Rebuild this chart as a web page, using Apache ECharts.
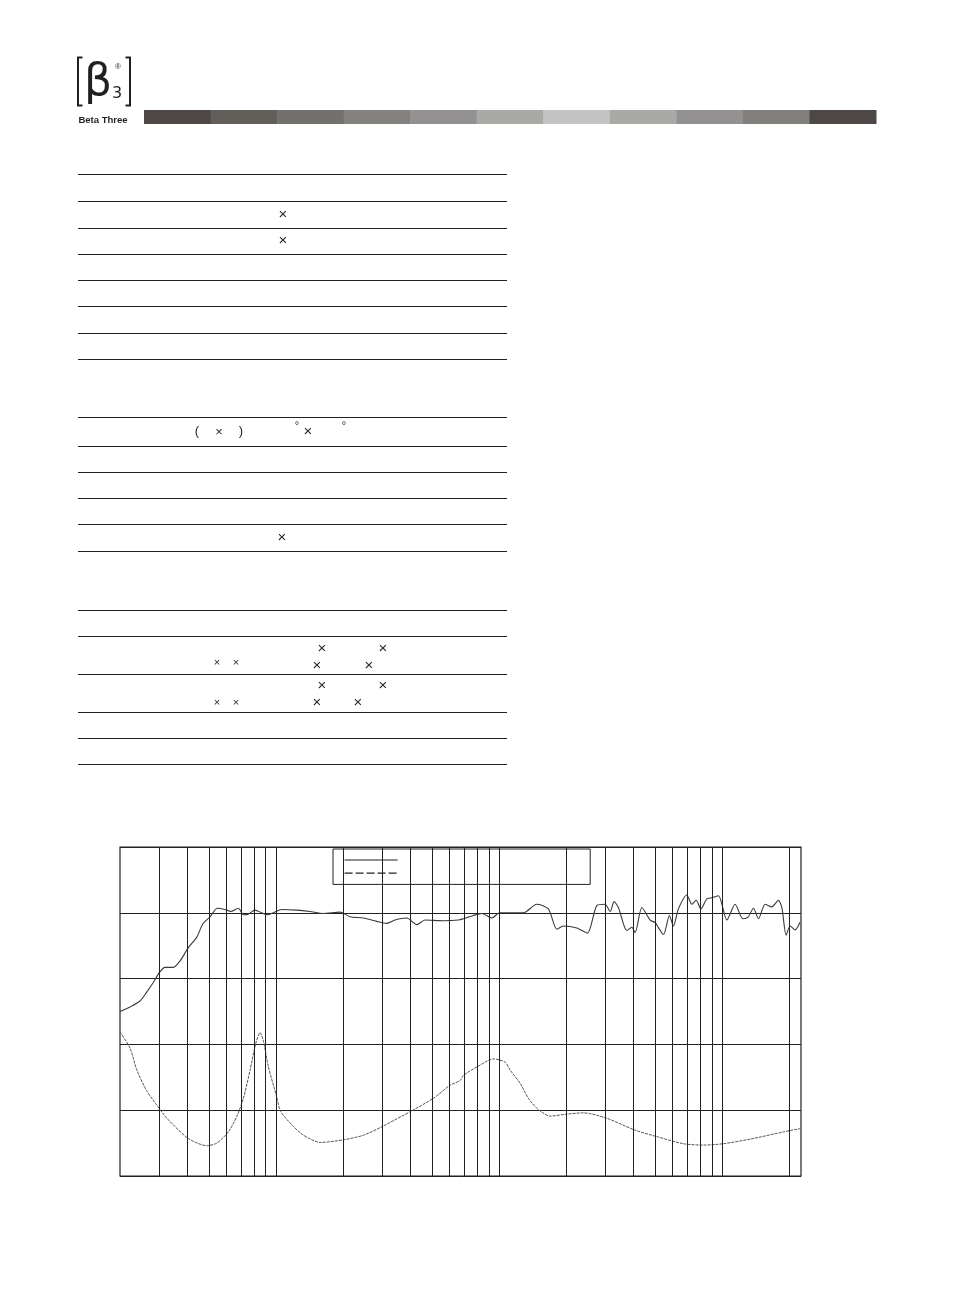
<!DOCTYPE html>
<html>
<head>
<meta charset="utf-8">
<script src="https://cdn.jsdelivr.net/npm/echarts@6/dist/echarts.min.js"></script>
<style>
html,body{margin:0;padding:0;background:#fff;}
#main{width:954px;height:1294px;}
</style>
</head>
<body>
<div id="main"></div>
<script>
// ---------- DATA ----------
// Frequency response (SPL, dB) vs frequency (Hz)
const splFreq = [20,22.2,24.6,26.3,28.2,30.0,31.8,34.7,37.2,40.5,44.2,47.0,50.7,54.6,59.1,62.7,67.9,71.5,75.2,80.6,86.4,91.5,97.4,106,124,142,163,194,215,247,283,314,342,386,428,466,564,658,693,768,838,929,1005,1122,1287,1478,1666,1817,1945,2234,2492,2746,2992,3150,3284,3432,3744,3942,4078,4372,4762,5014,5462,5810,6056,6376,6956,7324,7656,8036,8552,9004,9640,10510,11450,12400,13060,13840,14570,15610,16730,17910,18550,19390,20210,21280,22400];
const splValues = [75.0,75.7,76.6,77.9,79.4,80.9,81.7,81.7,82.7,84.7,86.3,88.3,89.4,90.7,90.5,90.2,90.7,89.7,89.8,90.4,90.0,89.7,90.0,90.5,90.4,90.2,89.9,90.1,89.4,89.2,88.7,88.4,88.9,89.2,88.2,88.9,88.8,88.9,89.1,89.6,89.9,89.2,90.0,90.0,90.0,91.3,90.6,87.5,88.0,87.7,86.9,91.1,91.3,90.2,91.7,90.8,87.3,87.8,87.0,90.8,88.9,88.5,86.7,89.6,88.0,90.6,92.7,91.3,91.9,90.6,92.1,92.3,92.6,88.9,91.3,89.1,89.3,90.7,89.1,91.3,90.9,91.9,90.8,86.6,88.0,87.4,88.6];
// Impedance curve (same plot scale) vs frequency (Hz)
const impFreq = [20,22.2,23.8,26.3,29.2,32.4,40.5,49.0,54.3,61.2,66.7,71.5,76.6,81.2,84.9,87.8,92.5,100.9,105,120,133,158,201,247,303,406,508,604,669,693,809,944,1066,1122,1244,1355,1502,1696,2006,2392,3032,4050,5082,6714,8256,10090,13370,18860,22400];
const impValues = [71.9,69.4,66.1,63.0,60.8,58.8,55.7,54.6,55.0,56.7,59.0,61.8,66.1,70.1,71.8,70.6,66.6,62.0,59.8,57.5,56.2,55.1,55.5,56.2,57.6,59.9,61.8,63.8,64.5,65.3,66.7,67.8,67.3,66.1,64.1,61.8,60.1,59.1,59.4,59.6,58.8,57.0,56.0,54.9,54.7,54.9,55.6,56.7,57.2];
// Vertical grid frequencies (Hz)
const gridFreqs = [30,40,50,60,70,80,90,100,200,300,400,500,600,700,800,900,1000,2000,3000,4000,5000,6000,7000,8000,9000,10000,20000];
const seriesNames = ['SPL','Impedance'];
// Header bar shades
const barShades = ['#4d4846','#625e5a','#72716e','#82817e','#939192','#a9aaa5','#c3c3c3','#a9aaa5','#939192','#82807c','#4d4846'];
// Text glyphs remaining in the spec table
const tableGlyphs = ['×','×','(','×',')','°','×','°','×','×','×','×','×','×','×','×','×','×','×','×','×'];

// ---------- LAYOUT ----------
const ruleY = [174,201,228,254,280,306,333,359,417,446,472,498,524,551,610,636,674,712,738,764];
const glyphPos = [
  [283,215,15],[283,241,15],
  [197,431,13],[219,432,13],[241,431,13],[297,426,11],[308,432,15],[344,426,11],
  [282,538,15],
  [322,649,15],[383,649,15],[217,663,11],[236,663,11],[317,666,15],[369,666,15],
  [322,686,15],[383,686,15],[217,703,11],[236,703,11],[317,703,15],[358,703,15]
];
const FONT = '"Liberation Sans", Arial, sans-serif';

const graphics = [];
// logo brackets
graphics.push({type:'polyline', shape:{points:[[82.5,57.5],[78,57.5],[78,105.5],[82.5,105.5]]}, style:{stroke:'#231f20', lineWidth:2, fill:null}});
graphics.push({type:'polyline', shape:{points:[[125.5,57.5],[130,57.5],[130,105.5],[125.5,105.5]]}, style:{stroke:'#231f20', lineWidth:2, fill:null}});
graphics.push({type:'text', x:98, y:84, style:{text:'β', font:'44px "DejaVu Sans", sans-serif', fill:'#231f20', align:'center', verticalAlign:'middle'}});
graphics.push({type:'text', x:117, y:94, style:{text:'3', font:'16px "DejaVu Sans", sans-serif', fill:'#231f20', align:'center', verticalAlign:'middle'}});
graphics.push({type:'text', x:118, y:67, style:{text:'®', font:'8px '+FONT, fill:'#231f20', align:'center', verticalAlign:'middle'}});
graphics.push({type:'text', x:103, y:120, style:{text:'Beta Three', font:'bold 9.5px '+FONT, fill:'#231f20', align:'center', verticalAlign:'middle'}});
// header bar
const barX0 = 144, barX1 = 876, segW = (barX1-barX0)/barShades.length;
barShades.forEach((c,i)=>{
  graphics.push({type:'rect', shape:{x:barX0+i*segW, y:110, width:segW+0.5, height:14}, style:{fill:c}});
});
// table rules
ruleY.forEach(y=>{
  graphics.push({type:'line', shape:{x1:78, y1:y+0.5, x2:507, y2:y+0.5}, style:{stroke:'#231f20', lineWidth:1.1}});
});
// table glyphs
tableGlyphs.forEach((t,i)=>{
  const p = glyphPos[i];
  graphics.push({type:'text', x:p[0], y:p[1], style:{text:t, font:p[2]+'px '+FONT, fill:'#231f20', align:'center', verticalAlign:'middle'}});
});

const chart = echarts.init(document.getElementById('main'), null, {renderer:'canvas'});
chart.setOption({
  animation:false,
  backgroundColor:'#fff',
  color:['#231f20','#231f20'],
  graphic: graphics,
  grid:{left:120, top:847, width:681, height:329, show:true, borderColor:'#231f20', borderWidth:1.2, containLabel:false},
  xAxis:{type:'log', logBase:10, min:20, max:22600,
    axisLine:{show:false}, axisTick:{show:false}, axisLabel:{show:false}, splitLine:{show:false}, minorSplitLine:{show:false}},
  yAxis:{type:'value', min:50, max:100, interval:10,
    axisLine:{show:false}, axisTick:{show:false}, axisLabel:{show:false},
    splitLine:{show:true, lineStyle:{color:'#231f20', width:1}}},
  legend:{
    orient:'vertical', left:333, top:849,
    padding:[7,192,8,11], itemWidth:53, itemHeight:8, itemGap:6,
    borderColor:'#231f20', borderWidth:1, backgroundColor:'#fff',
    formatter:()=> '', textStyle:{fontSize:8},
    data:[
      {name:seriesNames[0], itemStyle:{opacity:0}, lineStyle:{color:'#231f20', width:1.2, type:'solid'}},
      {name:seriesNames[1], itemStyle:{opacity:0}, lineStyle:{color:'#231f20', width:1.2, type:[8,3]}}
    ],
    selectedMode:false
  },
  series:[
    {name:seriesNames[0], type:'line', symbol:'none', showSymbol:false, smooth:0.25,
      data: splFreq.map((f,i)=>[f, splValues[i]]),
      lineStyle:{color:'#3a3a3a', width:1.1},
      z:3,
      markLine:{silent:true, symbol:'none', label:{show:false},
        lineStyle:{color:'#231f20', width:1, type:'solid'},
        data: gridFreqs.map(f=>({xAxis:f}))}
    },
    {name:seriesNames[1], type:'line', symbol:'none', showSymbol:false, smooth:0.25,
      data: impFreq.map((f,i)=>[f, impValues[i]]),
      lineStyle:{color:'#555', width:1, type:[3,1]},
      z:3}
  ]
});
</script>
</body>
</html>
